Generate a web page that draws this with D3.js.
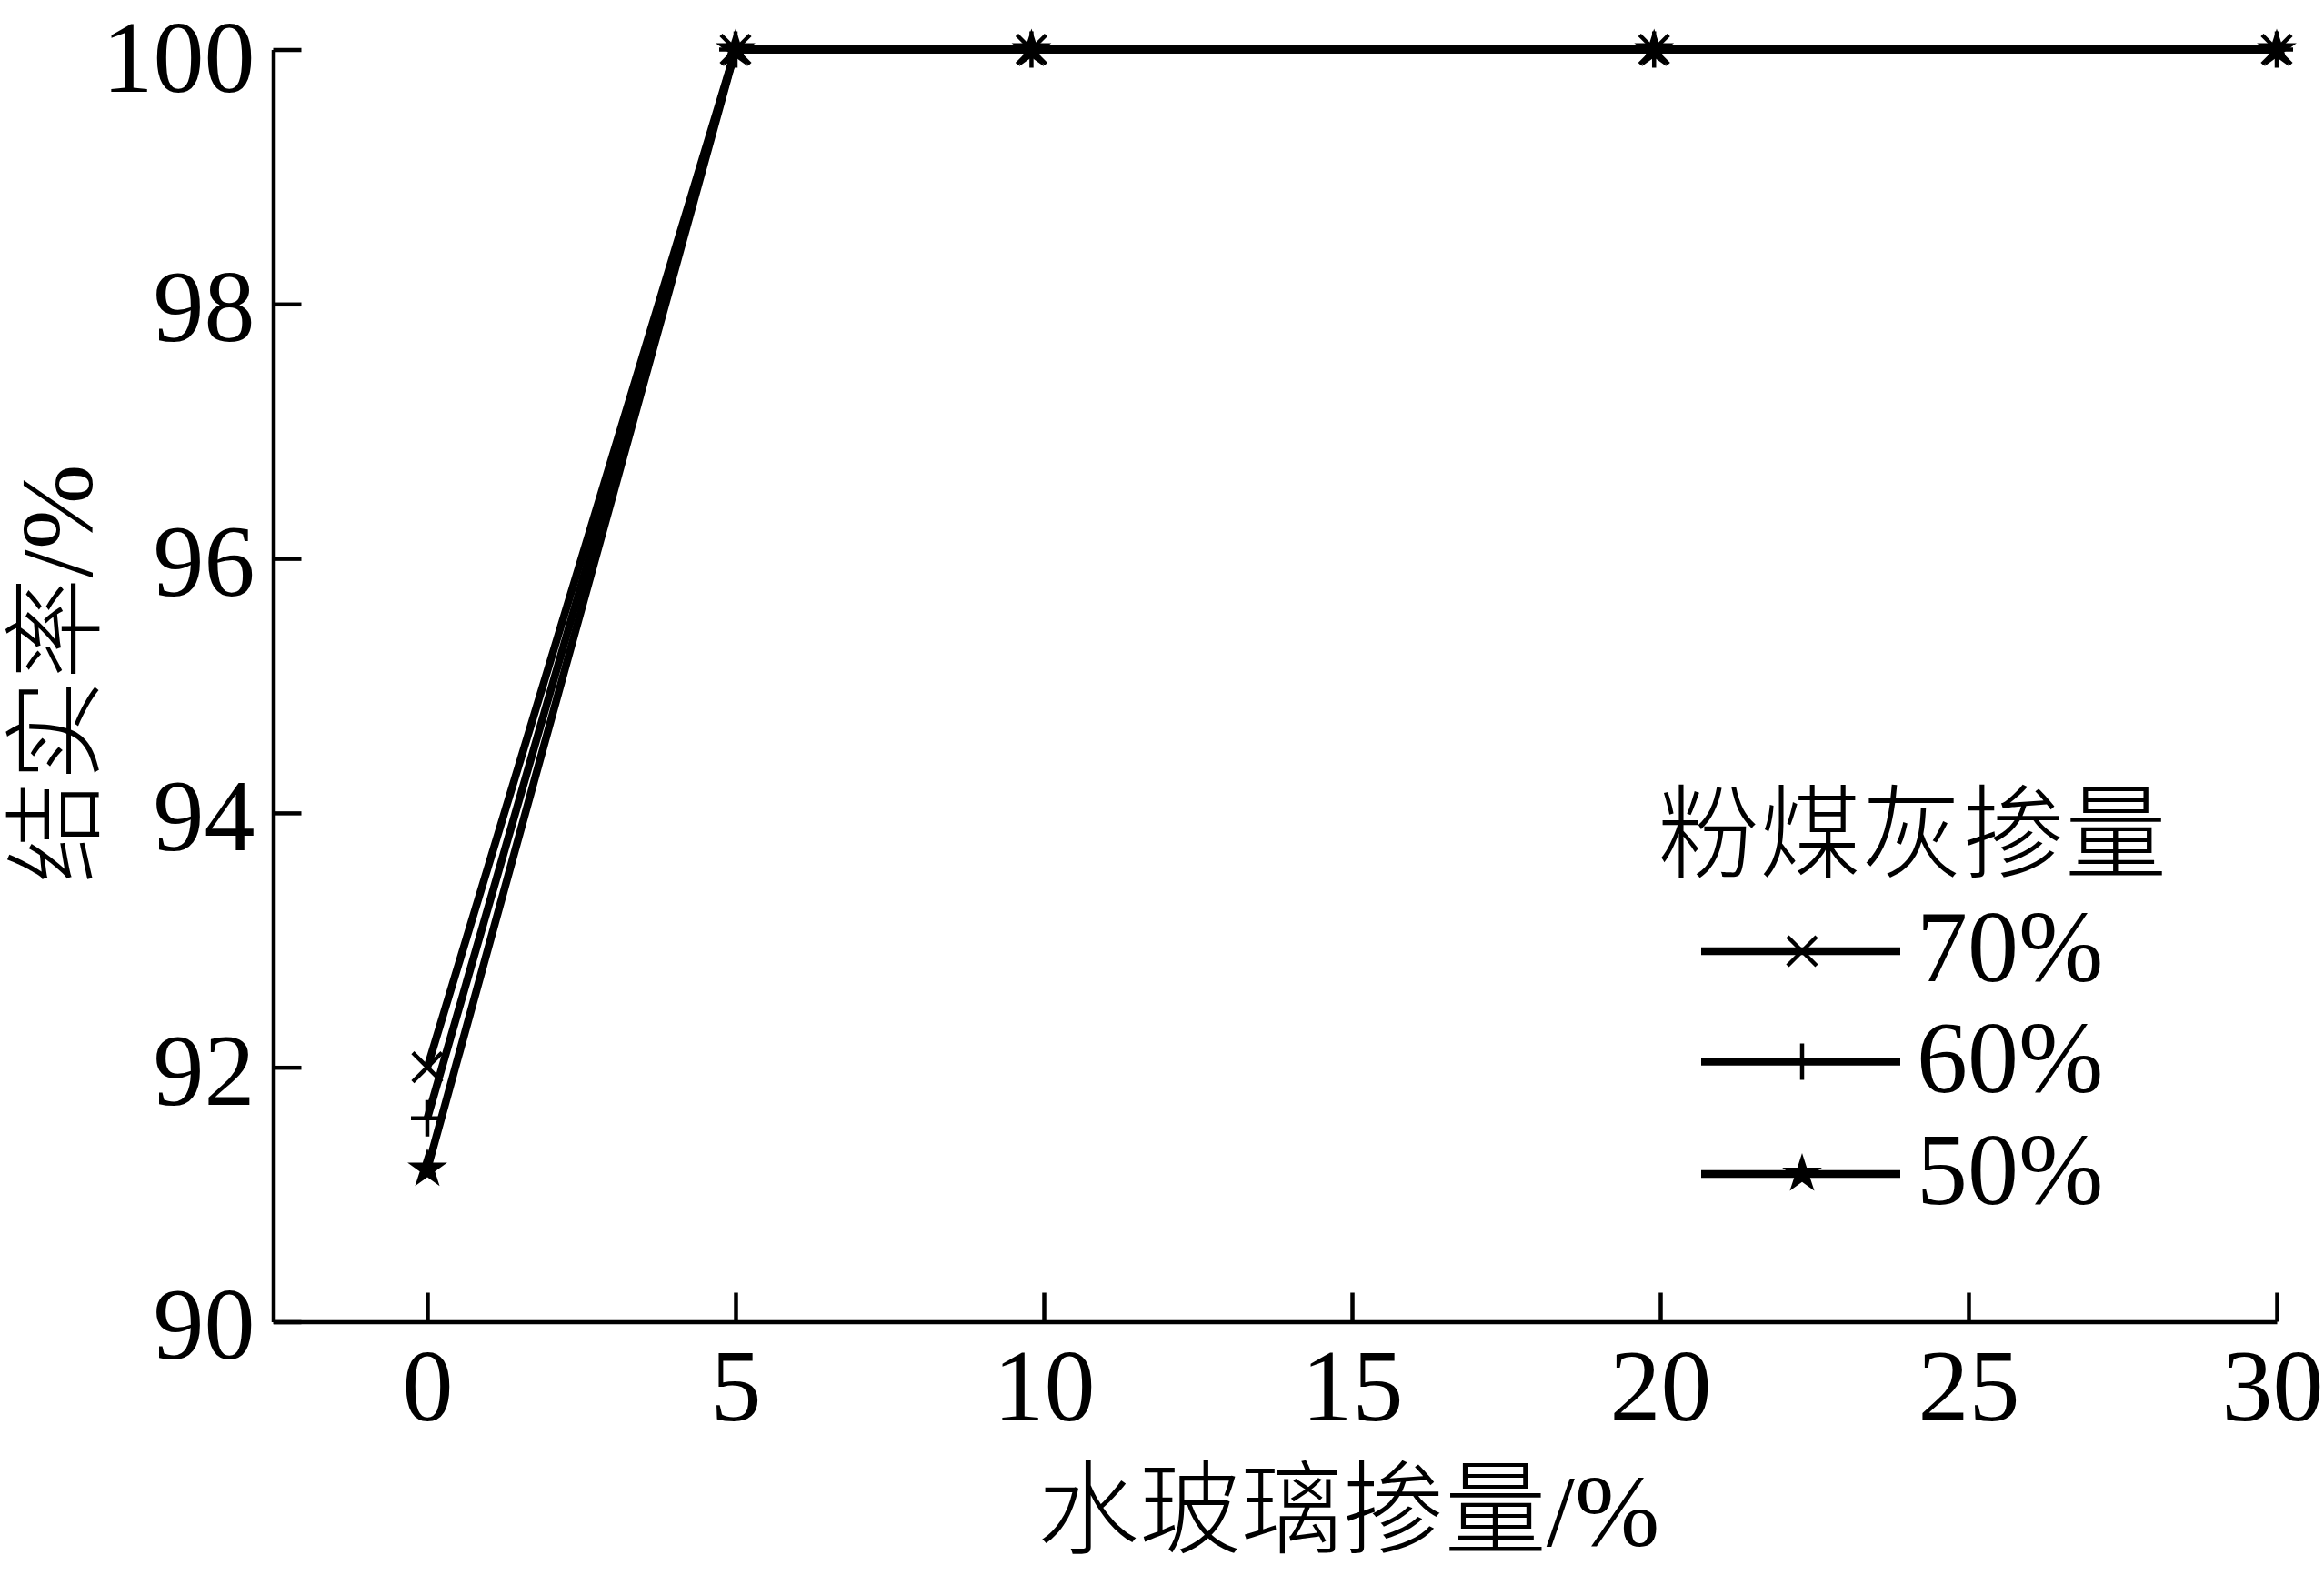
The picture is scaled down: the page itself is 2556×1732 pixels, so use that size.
<!DOCTYPE html>
<html>
<head>
<meta charset="utf-8">
<script src="https://cdn.jsdelivr.net/npm/d3@7"></script>
<style>
    body { margin: 0; background: #fff; }
    svg { display: block; }
</style>
</head>
<body>
<svg id="chart"></svg>
<script>
// water glass dosage (x)
let xValues = [0, 5, 9.8, 19.9, 30]
let seriesNames = ["70%", "60%", "50%"]
let ash70 = [92.0, 100, 100, 100, 100]
let ash60 = [91.6, 100, 100, 100, 100]
let ash50 = [91.2, 100, 100, 100, 100]
let xTicks = [0, 5, 10, 15, 20, 25, 30]
let yTicks = [90, 92, 94, 96, 98, 100]

let xTitle = "水玻璃掺量/%"
let yTitle = "结实率/%"
let legendTitle = "粉煤灰掺量"

let width = 2556
let height = 1732
let font = "'Liberation Serif', 'Noto Sans CJK SC', serif"
let fontSize = 112

let svg = d3.select("#chart")
    .attr("width", width)
    .attr("height", height)

let x = d3.scaleLinear().domain([-2.5, 30]).range([300.5, 2504])
let y = d3.scaleLinear().domain([90, 100]).range([1453.5, 54.5])

// marker shapes, s = half size
function markerPath(type, s) {
    let p = d3.path()
    if (type == "x") {
        p.moveTo(-s, -s); p.lineTo(s, s)
        p.moveTo(-s, s); p.lineTo(s, -s)
    } else if (type == "plus") {
        p.moveTo(-s * 0.9, 0); p.lineTo(s * 0.9, 0)
        p.moveTo(0, -s); p.lineTo(0, s)
    }
    return p.toString()
}
let starPath = d3.symbol().type(d3.symbolStar).size(594)()

let series = [
    { name: seriesNames[0], values: ash70, marker: "x" },
    { name: seriesNames[1], values: ash60, marker: "plus" },
    { name: seriesNames[2], values: ash50, marker: "star" }
]

function drawMarker(g, type) {
    if (type == "star") {
        g.append("path").attr("d", starPath).attr("fill", "#000")
    } else {
        g.append("path")
            .attr("d", markerPath(type, type == "x" ? 16 : 20))
            .attr("fill", "none")
            .attr("stroke", "#000")
            .attr("stroke-width", 4.5)
    }
}

// axes with inward ticks
let xAxis = svg.append("g")
    .attr("transform", "translate(0," + y(90) + ")")
    .call(d3.axisBottom(x).tickValues(xTicks).tickSizeInner(-32).tickSizeOuter(0).tickPadding(29))
let yAxis = svg.append("g")
    .attr("transform", "translate(" + x(-2.5) + ",0)")
    .call(d3.axisLeft(y).tickValues(yTicks).tickSizeInner(-31).tickSizeOuter(0).tickPadding(20))

svg.selectAll(".domain, .tick line")
    .attr("stroke", "#000")
    .attr("stroke-width", 4.5)
svg.selectAll(".tick text")
    .attr("fill", "#000")
    .style("font-family", font)
    .style("font-size", fontSize + "px")
yAxis.selectAll(".tick text").attr("dy", "0.36em")
// keep the top label inside the page
yAxis.selectAll(".tick text").filter(d => d == 100).attr("dy", "0.41em")
// last label sits a little left of its tick, as in the original
xAxis.selectAll(".tick text").filter(d => d == 30).attr("dx", -5)

// lines
let line = d3.line()
    .x((d, i) => x(xValues[i]))
    .y(d => y(d))

svg.selectAll(".series")
    .data(series)
    .enter()
    .append("path")
    .attr("class", "series")
    .attr("d", d => line(d.values))
    .attr("fill", "none")
    .attr("stroke", "#000")
    .attr("stroke-width", 8.5)

series.forEach(function (s) {
    s.values.forEach(function (v, i) {
        let g = svg.append("g").attr("transform", "translate(" + x(xValues[i]) + "," + y(v) + ")")
        drawMarker(g, s.marker)
    })
})

// axis titles
svg.append("text")
    .attr("x", 1483)
    .attr("y", 1700)
    .attr("text-anchor", "middle")
    .style("font-family", font)
    .style("font-weight", 300)
    .style("font-size", fontSize + "px")
    .text(xTitle)

svg.append("text")
    .attr("transform", "translate(101,741) rotate(-90)")
    .attr("text-anchor", "middle")
    .style("font-family", font)
    .style("font-weight", 300)
    .style("font-size", fontSize + "px")
    .text(yTitle)

// legend
let legend = svg.append("g")
legend.append("text")
    .attr("x", 2103)
    .attr("y", 957)
    .attr("text-anchor", "middle")
    .style("font-family", font)
    .style("font-weight", 300)
    .style("font-size", fontSize + "px")
    .text(legendTitle)

let legendY = [1046, 1167.5, 1291]
series.forEach(function (s, i) {
    let row = legend.append("g").attr("transform", "translate(0," + legendY[i] + ")")
    row.append("line")
        .attr("x1", 1871).attr("x2", 2090)
        .attr("stroke", "#000")
        .attr("stroke-width", 8.5)
    let m = row.append("g").attr("transform", "translate(1982,0)")
    drawMarker(m, s.marker)
    row.append("text")
        .attr("x", 2108)
        .attr("y", 33)
        .style("font-family", font)
        .style("font-size", fontSize + "px")
        .text(s.name)
})
</script>
</body>
</html>
